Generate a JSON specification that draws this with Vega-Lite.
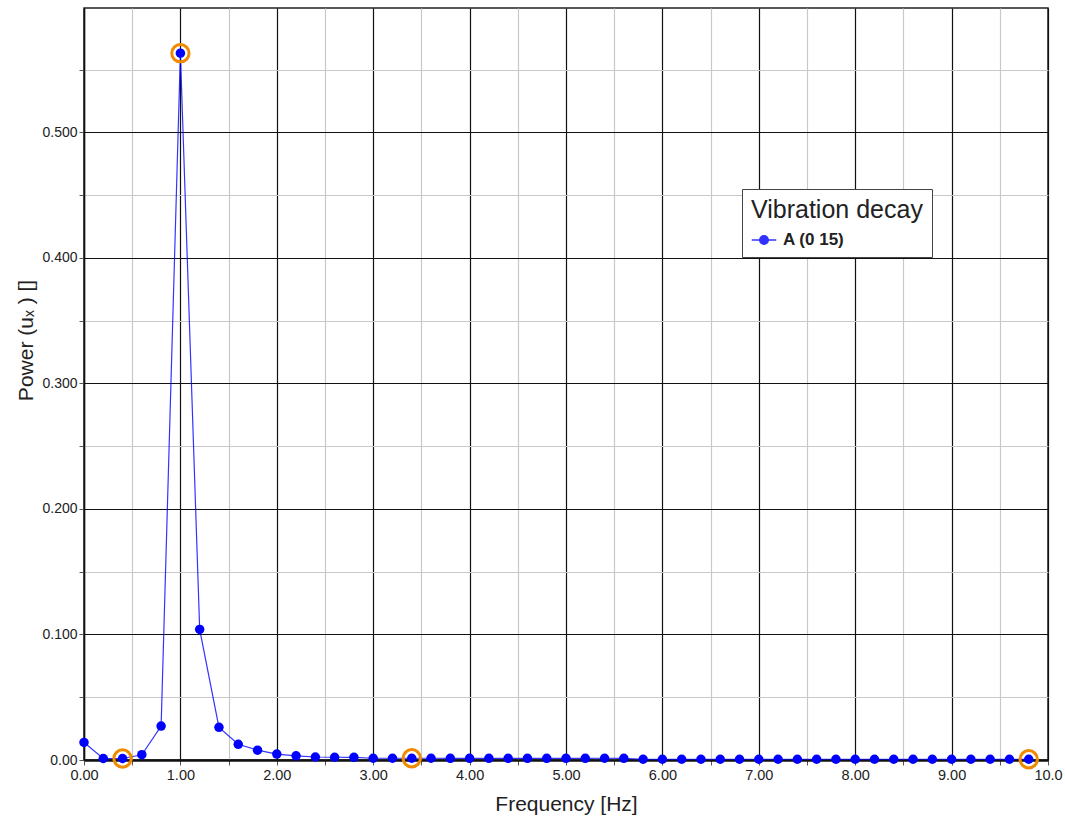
{
  "$schema": "https://vega.github.io/schema/vega-lite/v6.json",
  "width": 964,
  "height": 752,
  "autosize": {"type": "none"},
  "padding": {"left": 84, "top": 8, "right": 17, "bottom": 63},
  "background": "white",
  "config": {
    "font": "Liberation Sans",
    "view": {"stroke": "#222", "strokeWidth": 1.5}
  },
  "datasets": {
    "spec": [
      {"f": 0.0, "p": 0.014, "s": "A (0 15)"},
      {"f": 0.2, "p": 0.0012, "s": "A (0 15)"},
      {"f": 0.4, "p": 0.0012, "s": "A (0 15)"},
      {"f": 0.6, "p": 0.0042, "s": "A (0 15)"},
      {"f": 0.8, "p": 0.027, "s": "A (0 15)"},
      {"f": 1.0, "p": 0.563, "s": "A (0 15)"},
      {"f": 1.2, "p": 0.104, "s": "A (0 15)"},
      {"f": 1.4, "p": 0.026, "s": "A (0 15)"},
      {"f": 1.6, "p": 0.0125, "s": "A (0 15)"},
      {"f": 1.8, "p": 0.0078, "s": "A (0 15)"},
      {"f": 2.0, "p": 0.0047, "s": "A (0 15)"},
      {"f": 2.2, "p": 0.0033, "s": "A (0 15)"},
      {"f": 2.4, "p": 0.0024, "s": "A (0 15)"},
      {"f": 2.6, "p": 0.0022, "s": "A (0 15)"},
      {"f": 2.8, "p": 0.0021, "s": "A (0 15)"},
      {"f": 3.0, "p": 0.0014, "s": "A (0 15)"},
      {"f": 3.2, "p": 0.0014, "s": "A (0 15)"},
      {"f": 3.4, "p": 0.0014, "s": "A (0 15)"},
      {"f": 3.6, "p": 0.0014, "s": "A (0 15)"},
      {"f": 3.8, "p": 0.0013, "s": "A (0 15)"},
      {"f": 4.0, "p": 0.0013, "s": "A (0 15)"},
      {"f": 4.2, "p": 0.0013, "s": "A (0 15)"},
      {"f": 4.4, "p": 0.0013, "s": "A (0 15)"},
      {"f": 4.6, "p": 0.0013, "s": "A (0 15)"},
      {"f": 4.8, "p": 0.0013, "s": "A (0 15)"},
      {"f": 5.0, "p": 0.0013, "s": "A (0 15)"},
      {"f": 5.2, "p": 0.0013, "s": "A (0 15)"},
      {"f": 5.4, "p": 0.0014, "s": "A (0 15)"},
      {"f": 5.6, "p": 0.0013, "s": "A (0 15)"},
      {"f": 5.8, "p": 0.0006, "s": "A (0 15)"},
      {"f": 6.0, "p": 0.0006, "s": "A (0 15)"},
      {"f": 6.2, "p": 0.0006, "s": "A (0 15)"},
      {"f": 6.4, "p": 0.0006, "s": "A (0 15)"},
      {"f": 6.6, "p": 0.0006, "s": "A (0 15)"},
      {"f": 6.8, "p": 0.0006, "s": "A (0 15)"},
      {"f": 7.0, "p": 0.0006, "s": "A (0 15)"},
      {"f": 7.2, "p": 0.0006, "s": "A (0 15)"},
      {"f": 7.4, "p": 0.0006, "s": "A (0 15)"},
      {"f": 7.6, "p": 0.0006, "s": "A (0 15)"},
      {"f": 7.8, "p": 0.0006, "s": "A (0 15)"},
      {"f": 8.0, "p": 0.0006, "s": "A (0 15)"},
      {"f": 8.2, "p": 0.0006, "s": "A (0 15)"},
      {"f": 8.4, "p": 0.0006, "s": "A (0 15)"},
      {"f": 8.6, "p": 0.0006, "s": "A (0 15)"},
      {"f": 8.8, "p": 0.0006, "s": "A (0 15)"},
      {"f": 9.0, "p": 0.0006, "s": "A (0 15)"},
      {"f": 9.2, "p": 0.0006, "s": "A (0 15)"},
      {"f": 9.4, "p": 0.0006, "s": "A (0 15)"},
      {"f": 9.6, "p": 0.0006, "s": "A (0 15)"},
      {"f": 9.8, "p": 0.0006, "s": "A (0 15)"}
    ],
    "peaks": [
      {"f": 0.4, "p": 0.0012},
      {"f": 1.0, "p": 0.563},
      {"f": 3.4, "p": 0.0014},
      {"f": 9.8, "p": 0.0006}
    ]
  },
  "encoding": {
    "x": {
      "field": "f", "type": "quantitative",
      "scale": {"domain": [0, 10], "nice": false, "zero": false},
      "axis": {
        "title": "Frequency [Hz]",
        "titleFont": "Liberation Sans", "titleFontSize": 21, "titleFontWeight": "normal", "titleColor": "#222", "titlePadding": 12,
        "values": [0, 0.5, 1, 1.5, 2, 2.5, 3, 3.5, 4, 4.5, 5, 5.5, 6, 6.5, 7, 7.5, 8, 8.5, 9, 9.5, 10],
        "labelExpr": "datum.value % 1 != 0 ? '' : (datum.value == 10 ? '10.0' : format(datum.value, '.2f'))",
        "labelFontSize": 14.5, "labelColor": "#222", "labelFlush": false, "labelPadding": 3,
        "grid": true,
        "gridColor": {"condition": {"test": "datum.value % 1 == 0", "value": "#111"}, "value": "#c8c8c8"},
        "gridWidth": 1.2,
        "domainColor": "#111", "domainWidth": 2.5,
        "tickColor": "#555", "tickSize": 5,
        "labelOverlap": false
      }
    },
    "y": {
      "field": "p", "type": "quantitative",
      "scale": {"domain": [0, 0.599], "nice": false, "zero": true},
      "axis": {
        "title": "Power (uₓ ) []",
        "titleFont": "Liberation Sans", "titleFontSize": 21, "titleFontWeight": "normal", "titleColor": "#222",
        "titleX": -58, "titleY": 332, "titleBaseline": "middle", "titleAngle": -90, "titleAlign": "center",
        "values": [0, 0.05, 0.1, 0.15, 0.2, 0.25, 0.3, 0.35, 0.4, 0.45, 0.5, 0.55],
        "labelExpr": "datum.value == 0 ? '0.00' : (round(datum.value * 100) % 10 != 0 ? '' : format(datum.value, '.3f'))",
        "labelFontSize": 14, "labelColor": "#222", "labelPadding": 2,
        "grid": true,
        "gridColor": {"condition": {"test": "round(datum.value * 100) % 10 == 0", "value": "#111"}, "value": "#c8c8c8"},
        "gridWidth": 1.2,
        "domainColor": "#111", "domainWidth": 1.5,
        "tickColor": "#555", "tickSize": 5,
        "labelOverlap": false
      }
    }
  },
  "layer": [
    {
      "data": {"name": "spec"},
      "mark": {"type": "line", "strokeWidth": 1.2, "opacity": 0.8},
      "encoding": {
        "color": {
          "field": "s", "type": "nominal",
          "scale": {"range": ["#0000ff"]},
          "legend": {
            "title": "Vibration decay",
            "orient": "none", "legendX": 658, "legendY": 181,
            "titleFont": "Liberation Sans", "titleFontSize": 25, "titleFontWeight": "normal", "titleColor": "#222",
            "labelFont": "Liberation Sans", "labelFontSize": 17, "labelFontWeight": "bold", "labelColor": "#222", "labelOffset": 6,
            "symbolType": "M-1,0L1,0M-0.35,0A0.35,0.35 0 1,1 0.35,0A0.35,0.35 0 1,1 -0.35,0Z",
            "symbolSize": 600, "symbolStrokeWidth": 1.5, "symbolFillColor": "#0000ff",
            "strokeColor": "#444", "fillColor": "white", "padding": 9,
            "titlePadding": 4, "titleAnchor": "start", "offset": 0
          }
        }
      }
    },
    {
      "data": {"name": "spec"},
      "mark": {"type": "circle", "size": 90, "opacity": 1},
      "encoding": {
        "color": {"field": "s", "type": "nominal", "legend": null}
      }
    },
    {
      "data": {"name": "peaks"},
      "mark": {"type": "point", "shape": "circle", "size": 300, "stroke": "#f08a00", "strokeWidth": 3, "filled": false, "opacity": 1}
    }
  ]
}
